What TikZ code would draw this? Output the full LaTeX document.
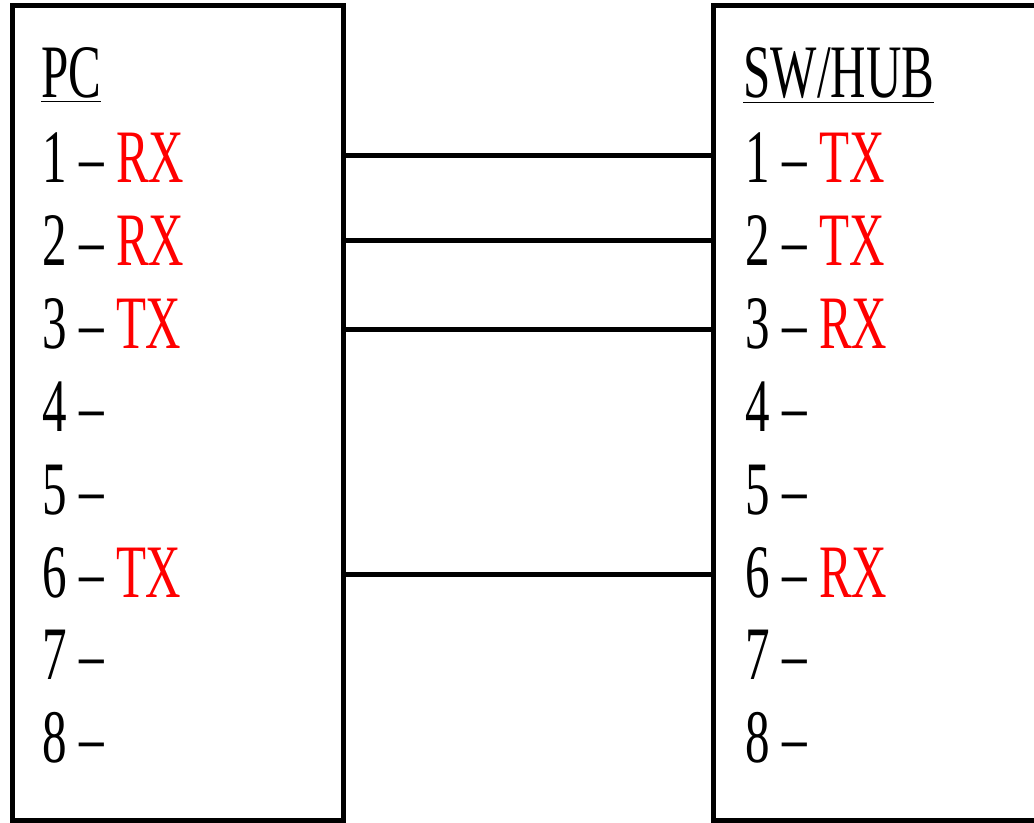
\documentclass[tikz,border=0pt]{standalone}
\usepackage{fontspec}
\setmainfont[FakeStretch=0.65]{Liberation Serif}
\usetikzlibrary{positioning}

\begin{document}
\begin{tikzpicture}[
    x=0.5pt, y=-0.5pt,
    box/.style={rectangle, draw, line width=2.5pt, inner sep=0pt, outer sep=0pt},
    pin_text/.style={anchor=base west, inner sep=0pt, font=\fontsize{37.75}{40}\selectfont},
    wire/.style={line width=2.5pt}
]
    \useasboundingbox (0,0) rectangle (1034,823);

    % Boxes
    \node (pcbox) [box, minimum width=165.5pt, minimum height=407pt] at (177.5,413) {};
    \node (hubbox) [box, minimum width=180pt, minimum height=407pt] at (893,413) {};

    % Titles
    \node (pctitle) [pin_text] at (41,98) {\underline{PC}};
    \node (hubtitle) [pin_text] at (743,98) {\underline{SW/HUB}};

    % Pins
    \foreach \i/\sig in {1/RX,2/RX,3/TX,4/,5/,6/TX,7/,8/}
        \node (pc\i) [pin_text] at (42,{183+82.8*(\i-1)}) {\i\ -- \textcolor{red}{\sig}};
    \foreach \i/\sig in {1/TX,2/TX,3/RX,4/,5/,6/RX,7/,8/}
        \node (hub\i) [pin_text] at (745,{183+82.8*(\i-1)}) {\i\ -- \textcolor{red}{\sig}};

    % Wires
    \foreach \i/\y in {1/156,2/241,3/330,6/575} {
        \coordinate (w\i) at (528,\y);
        \draw[wire] (pcbox.east |- w\i) -- (hubbox.west |- w\i);
    }

\end{tikzpicture}
\end{document}
